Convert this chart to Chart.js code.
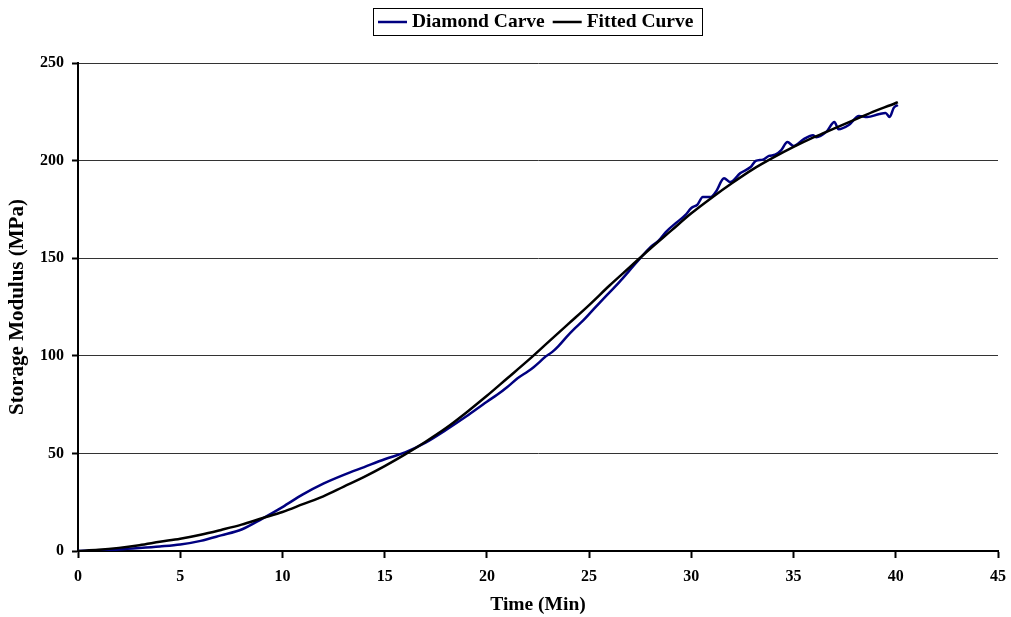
<!DOCTYPE html>
<html>
<head>
<meta charset="utf-8">
<title>Storage Modulus vs Time</title>
<script src="https://cdn.jsdelivr.net/npm/chart.js@4.4.1/dist/chart.umd.min.js"></script>
<style>
  html, body { margin: 0; padding: 0; background: #fff; }
  #wrap { position: relative; width: 1011px; height: 617px; }
</style>
</head>
<body>
<div id="wrap"><canvas id="modulusChart"></canvas></div>
<script>
// Measured curve (noisy at the end of cure)
const diamondTime = [0, 1, 2, 3, 4, 5, 6, 7, 8, 9, 10, 11, 12, 13, 14, 15, 16, 17, 18, 19, 20,
    20.5, 21, 21.5, 22, 22.3, 22.6, 22.8, 23.2, 23.5, 23.9, 24.3, 24.7, 25.1, 25.5, 26, 26.5, 27,
    27.5, 28, 28.4, 28.75, 29.3, 29.7, 30, 30.3, 30.56, 30.95, 31.2, 31.6, 31.9, 32.4, 32.9, 33.15,
    33.5, 33.8, 34.1, 34.4, 34.7, 35, 35.5, 35.95, 36.1, 36.6, 37, 37.2, 37.7, 38.2, 38.6, 39.2,
    39.5, 39.7, 39.9, 40.1];
const diamondModulus = [0, 0.3, 0.8, 1.5, 2.3, 3.3, 5.2, 8, 11, 16.5, 22.5, 29, 34.5, 39, 43, 47, 50.5, 55.5, 62, 69, 76.5,
    80, 84, 88.5, 92, 94.3, 97, 99, 102, 105, 109.7, 114, 118, 122.5, 127, 132.5, 138, 144,
    150, 155.7, 159, 163.4, 168.5, 172, 175.7, 177.5, 181.4, 181.4, 184, 191, 189, 193.6, 196.7, 199.8,
    200.5, 202.4, 203, 205.4, 209.5, 207.5, 211, 213, 212, 214.7, 219.8, 216, 218.2, 222.8, 222.3, 223.9,
    224.4, 222.3, 227, 228.5];

// Fitted model curve
const fittedTime = [0, 1, 2, 3, 4, 5, 6, 7, 8, 9, 10, 11, 12, 13, 14, 15, 16, 17, 18, 19, 20,
    21, 22, 23, 24, 25, 26, 27, 28, 29, 30, 31, 32, 33, 34, 35, 36, 37, 38, 39, 40, 40.1];
const fittedModulus = [0, 0.6, 1.6, 3, 4.7, 6.3, 8.3, 10.8, 13.5, 16.8, 20, 24, 28, 33, 38, 43.5, 49.5, 56, 63, 71, 79.5,
    88.5, 97.5, 107, 116.5, 126, 136, 145.5, 155, 164, 173, 181, 188.5, 195.5, 201.5, 207, 212, 216.5, 221, 225.5, 229.5, 230];

const seriesNames = ['Diamond Carve', 'Fitted Curve'];
const xTitle = 'Time (Min)';
const yTitle = 'Storage Modulus (MPa)';

const serif = '"Liberation Serif", "Times New Roman", serif';

function toPoints(xs, ys) {
    return xs.map((x, i) => ({ x: x, y: ys[i] }));
}

// legend with a frame around it, centred over the plot area
const boxedLegend = {
    id: 'boxedLegend',
    afterDraw(chart) {
        const ctx = chart.ctx;
        const area = chart.chartArea;
        const sample = 29, gap = 5, itemGap = 8;
        const midY = 22;
        ctx.save();
        ctx.font = 'bold 19.5px ' + serif;
        const items = chart.data.datasets.map(ds => ({
            text: ds.label,
            color: ds.borderColor,
            w: ctx.measureText(ds.label).width
        }));
        let content = 0;
        items.forEach((it, i) => { content += sample + gap + it.w + (i ? itemGap : 0); });
        const boxW = content + 14;
        const boxL = Math.round((area.left + area.right) / 2 - boxW / 2);

        ctx.strokeStyle = '#000';
        ctx.lineWidth = 1;
        ctx.strokeRect(boxL + 0.5, 8.5, Math.round(boxW), 27);

        let x = boxL + 5;
        ctx.textBaseline = 'middle';
        ctx.textAlign = 'left';
        items.forEach((it, i) => {
            if (i) x += itemGap;
            ctx.strokeStyle = it.color;
            ctx.lineWidth = 2.5;
            ctx.beginPath();
            ctx.moveTo(x, midY);
            ctx.lineTo(x + sample, midY);
            ctx.stroke();
            x += sample + gap;
            ctx.fillStyle = '#000';
            ctx.fillText(it.text, x, midY);
            x += it.w;
        });
        ctx.restore();
    }
};

Chart.defaults.color = '#000';
Chart.defaults.font.family = serif;

new Chart(document.getElementById('modulusChart'), {
    type: 'line',
    data: {
        datasets: [{
            label: seriesNames[0],
            data: toPoints(diamondTime, diamondModulus),
            borderColor: '#000080',
            backgroundColor: '#000080',
            borderWidth: 2.5,
            pointRadius: 0,
            cubicInterpolationMode: 'monotone',
            fill: false,
            order: 2
        }, {
            label: seriesNames[1],
            data: toPoints(fittedTime, fittedModulus),
            borderColor: '#000000',
            backgroundColor: '#000000',
            borderWidth: 2.5,
            pointRadius: 0,
            cubicInterpolationMode: 'monotone',
            fill: false,
            order: 1
        }]
    },
    options: {
        responsive: true,
        maintainAspectRatio: false,
        animation: false,
        layout: { padding: { top: 63, right: 13, bottom: 0, left: 0 } },
        plugins: {
            legend: { display: false },
            tooltip: { enabled: false }
        },
        scales: {
            x: {
                type: 'linear',
                min: 0,
                max: 45,
                ticks: { stepSize: 5, padding: 9, font: { size: 16, weight: 'bold' } },
                grid: { drawOnChartArea: false, tickLength: 7, tickColor: '#000', tickWidth: 2 },
                border: { color: '#000', width: 2 },
                title: { display: true, text: xTitle, padding: { top: 0, bottom: 0 },
                    font: { size: 19.5, weight: 'bold' } },
                afterFit(scale) {
                    scale.height = 66;
                    scale.paddingRight = 0;
                }
            },
            y: {
                min: 0,
                max: 250,
                ticks: { stepSize: 50, padding: 8, font: { size: 16, weight: 'bold' } },
                grid: { color: '#333', lineWidth: 1, tickLength: 6, tickColor: '#000', tickWidth: 2 },
                border: { color: '#000', width: 2 },
                title: { display: true, text: yTitle, padding: { top: 5, bottom: 0 },
                    font: { size: 21, weight: 'bold' } },
                afterFit(scale) { scale.width = 78; }
            }
        }
    },
    plugins: [boxedLegend]
});
</script>
</body>
</html>
